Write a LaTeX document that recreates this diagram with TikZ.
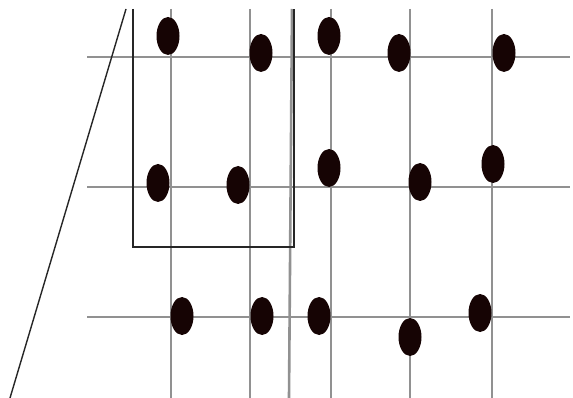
\documentclass[tikz,border=0pt]{standalone}
\usetikzlibrary{shapes.geometric}
\definecolor{gridgray}{RGB}{145,145,145}
\definecolor{dotcol}{RGB}{22,4,4}
\tikzset{
  gridline/.style={draw=gridgray, line width=2.6pt},
  frameline/.style={draw=black!85, line width=1.4pt},
  spot/.style={ellipse, fill=dotcol, draw=none, minimum width=23pt, minimum height=38pt, inner sep=0pt}
}
\begin{document}
\begin{tikzpicture}[x=1pt,y=-1pt]
\useasboundingbox (0,0) rectangle (573,398);
\fill[white] (0,0) rectangle (573,398);
% horizontal grid lines
\foreach \y in {57,187,317} \draw[gridline] (87,\y) -- (570,\y);
% vertical grid lines
\foreach \x in {171,250,331,410,492} \draw[gridline] (\x,9) -- (\x,398);
\draw[gridline] (292,9) -- (289,398);
% frame and diagonal
\draw[frameline] (133,9) -- (133,247) -- (294,247) -- (294,9);
\draw[frameline] (126,9) -- (10,398);
% dots
\node[spot] (a1) at (168,36) {};
\node[spot] (a2) at (261,53) {};
\node[spot] (a3) at (329,36) {};
\node[spot] (a4) at (399,53) {};
\node[spot] (a5) at (504,53) {};
\node[spot] (b1) at (158,183) {};
\node[spot] (b2) at (238,185) {};
\node[spot] (b3) at (329,168) {};
\node[spot] (b4) at (420,182) {};
\node[spot] (b5) at (493,164) {};
\node[spot] (c1) at (182,316) {};
\node[spot] (c2) at (262,316) {};
\node[spot] (c3) at (319,316) {};
\node[spot] (c4) at (410,337) {};
\node[spot] (c5) at (480,313) {};
\end{tikzpicture}
\end{document}
